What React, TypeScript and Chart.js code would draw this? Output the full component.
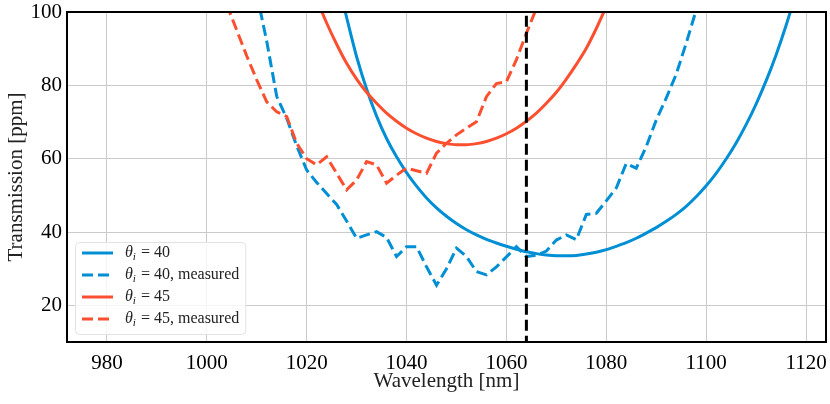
import { useEffect, useRef } from "react";
import { Chart, registerables } from "chart.js";
Chart.register(...registerables);

const BLUE = "#008fd5";
const RED = "#fc4f30";
const GRID = "#cbcbcb";
const FONT = "'Liberation Serif', 'Times New Roman', serif";

const xTicks = [980, 1000, 1020, 1040, 1060, 1080, 1100, 1120];
const yTicks = [20, 40, 60, 80, 100];
const laserWl = 1064;

// theory curve, theta_i = 40
const theory40Wl = [
  1026, 1028, 1030, 1032, 1034, 1036, 1038, 1040, 1042, 1044, 1046, 1048, 1050,
  1052, 1054, 1056, 1058, 1060, 1062, 1064, 1066, 1068, 1070, 1072, 1074, 1076,
  1078, 1080, 1082, 1084, 1086, 1088, 1090, 1092, 1094, 1096, 1098, 1100, 1102,
  1104, 1106, 1108, 1110, 1112, 1114, 1116, 1118,
];
const theory40T = [
  110, 98.5, 87.8, 79, 71.6, 65.5, 60.5, 56.2, 52.5, 49.3, 46.6, 44.3, 42.3,
  40.6, 39.2, 38, 37, 36.1, 35.3, 34.6, 34.1, 33.7, 33.5, 33.5, 33.6, 34,
  34.5, 35.2, 36.1, 37.1, 38.3, 39.7, 41.2, 42.9, 44.8, 47, 49.6, 52.6, 56,
  59.9, 64.3, 69.3, 74.9, 81.2, 88.3, 96.3, 105.3,
];

// measured, theta_i = 40
const meas40Wl = [
  1010, 1012, 1014, 1016, 1018, 1020, 1022, 1024, 1026, 1028, 1030, 1032, 1034,
  1036, 1038, 1040, 1042, 1044, 1046, 1048, 1050, 1052, 1054, 1056, 1058, 1060,
  1062, 1064, 1066, 1068, 1070, 1072, 1074, 1076, 1078, 1080, 1082, 1084, 1086,
  1088, 1090, 1092, 1094, 1096, 1098,
];
const meas40T = [
  105, 92, 77, 71, 63.5, 56.9, 53.5, 50.5, 47.5, 43, 38.3, 39.2, 40.1,
  38.5, 33.3, 36, 36, 30.5, 25.5, 30, 35.6, 33.3, 29.2, 28.3, 30.5, 33.2,
  36, 33.3, 33.7, 34.8, 37.8, 39.2, 37.9, 44.8, 45.1, 48.5, 52, 58.7, 57.4,
  63.3, 70.5, 76.5, 83, 91.5, 100.5,
];

// theory curve, theta_i = 45
const theory45Wl = [
  1022, 1024, 1026, 1028, 1030, 1032, 1034, 1036, 1038, 1040, 1042, 1044, 1046,
  1048, 1050, 1052, 1054, 1056, 1058, 1060, 1062, 1064, 1066, 1068, 1070, 1072,
  1074, 1076, 1078, 1080,
];
const theory45T = [
  103.5, 97, 91.2, 86, 81.7, 78.1, 75.1, 72.4, 70.2, 68.3, 66.8, 65.6, 64.7,
  64.1, 63.8, 63.8, 64.1, 64.7, 65.6, 66.8, 68.3, 70.2, 72.4, 75.1, 78.1, 81.7,
  85.7, 90.1, 95.5, 101.5,
];

// measured, theta_i = 45
const meas45Wl = [
  1004, 1006, 1008, 1010, 1012, 1014, 1016, 1018, 1020, 1022, 1024, 1026, 1028,
  1030, 1032, 1034, 1036, 1038, 1040, 1042, 1044, 1046, 1048, 1050, 1052, 1054,
  1056, 1058, 1060, 1062, 1064, 1066,
];
const meas45T = [
  102, 95, 88, 81.5, 75.5, 72.8, 71.5, 64.2, 60, 58.3, 60.5, 56, 51.5,
  54.2, 59.2, 58.3, 53.3, 55.5, 57.4, 56.7, 56, 61.5, 64.2, 66.5, 68.3, 70.1,
  76.9, 80.5, 81, 87, 94.2, 101,
];

const pts = (xs: number[], ys: number[]) => xs.map((x, i) => ({ x, y: ys[i] }));

const DASH = [11, 5];

// draws the box around the plot area
const framePlugin = {
  id: "frame",
  afterDraw(chart: any) {
    const { ctx, chartArea: a } = chart;
    ctx.save();
    ctx.strokeStyle = "#000";
    ctx.lineWidth = 2;
    ctx.strokeRect(a.left, a.top, a.right - a.left, a.bottom - a.top);
    ctx.restore();
  },
};

// matplotlib-like legend in the lower left corner
const legendPlugin = {
  id: "boxLegend",
  afterDatasetsDraw(chart: any) {
    const { ctx, chartArea: a } = chart;
    const items = chart.data.datasets.filter((d: any) => d.inLegend);
    const fs = 16;
    const rowH = 22;
    const normal = `${fs}px ${FONT}`;
    const italic = `italic ${fs}px ${FONT}`;
    const small = `italic ${fs * 0.7}px ${FONT}`;

    ctx.save();
    const widthOf = (label: string) => {
      if (label.startsWith("θᵢ")) {
        ctx.font = italic;
        let w = ctx.measureText("θ").width;
        ctx.font = small;
        w += ctx.measureText("i").width + 1;
        ctx.font = normal;
        return w + ctx.measureText(label.slice(2)).width;
      }
      ctx.font = normal;
      return ctx.measureText(label).width;
    };
    const textW = Math.max(...items.map((d: any) => widthOf(d.label)));
    const bx = a.left + 8;
    const bw = 50 + textW + 6;
    const bh = rowH * items.length + 4;
    const by = a.bottom - 8 - bh;

    ctx.fillStyle = "rgba(255,255,255,0.8)";
    ctx.strokeStyle = "#e2e2e2";
    ctx.lineWidth = 1;
    ctx.beginPath();
    ctx.roundRect(bx + 0.5, by + 0.5, bw, bh, 4);
    ctx.fill();
    ctx.stroke();

    items.forEach((d: any, i: number) => {
      const cy = by + 11 + i * rowH;
      ctx.strokeStyle = d.borderColor;
      ctx.lineWidth = d.borderWidth;
      ctx.setLineDash(d.borderDash || []);
      ctx.beginPath();
      ctx.moveTo(bx + 7, cy);
      ctx.lineTo(bx + 38, cy);
      ctx.stroke();
      ctx.setLineDash([]);

      ctx.fillStyle = "#222";
      ctx.textBaseline = "middle";
      ctx.textAlign = "left";
      let tx = bx + 50;
      let rest = d.label;
      if (rest.startsWith("θᵢ")) {
        ctx.font = italic;
        ctx.fillText("θ", tx, cy);
        tx += ctx.measureText("θ").width;
        ctx.font = small;
        ctx.fillText("i", tx, cy + 4);
        tx += ctx.measureText("i").width + 1;
        rest = rest.slice(2);
      }
      ctx.font = normal;
      ctx.fillText(rest, tx, cy);
    });
    ctx.restore();
  },
};

export default function App() {
  const ref = useRef<HTMLCanvasElement>(null);

  useEffect(() => {
    const chart = new Chart(ref.current!, {
      type: "line",
      data: {
        datasets: [
          {
            label: "θᵢ = 40",
            data: pts(theory40Wl, theory40T),
            borderColor: BLUE,
            borderWidth: 3,
            cubicInterpolationMode: "monotone",
            order: 4,
            inLegend: true,
          } as any,
          {
            label: "θᵢ = 40, measured",
            data: pts(meas40Wl, meas40T),
            borderColor: BLUE,
            borderWidth: 3,
            borderDash: DASH,
            order: 3,
            inLegend: true,
          },
          {
            label: "θᵢ = 45",
            data: pts(theory45Wl, theory45T),
            borderColor: RED,
            borderWidth: 3,
            cubicInterpolationMode: "monotone",
            order: 2,
            inLegend: true,
          },
          {
            label: "θᵢ = 45, measured",
            data: pts(meas45Wl, meas45T),
            borderColor: RED,
            borderWidth: 3,
            borderDash: DASH,
            order: 1,
            inLegend: true,
          },
          {
            label: "1064 nm",
            data: [
              { x: laserWl, y: 0 },
              { x: laserWl, y: 110 },
            ],
            borderColor: "#000",
            borderWidth: 3,
            borderDash: DASH,
            order: 0,
            inLegend: false,
          },
        ],
      },
      options: {
        animation: false,
        responsive: true,
        maintainAspectRatio: false,
        parsing: false,
        elements: { point: { radius: 0 }, line: { fill: false } },
        layout: { padding: { top: 12, right: 4, left: 0, bottom: 0 } },
        plugins: {
          legend: { display: false },
          tooltip: { enabled: false },
        },
        scales: {
          x: {
            type: "linear",
            min: 972,
            max: 1124,
            afterBuildTicks: (s: any) => {
              s.ticks = xTicks.map((value) => ({ value }));
            },
            afterFit: (s: any) => {
              s.height = 62;
              s.paddingLeft = 0;
              s.paddingRight = 0;
            },
            grid: { color: GRID, lineWidth: 1, drawTicks: false },
            border: { display: false },
            ticks: {
              color: "#000",
              padding: 9,
              maxRotation: 0,
              callback: (v: any) => String(v),
              font: { family: FONT, size: 21 },
            },
            title: {
              display: true,
              text: "Wavelength [nm]",
              color: "#222",
              padding: { top: 0, bottom: 10 },
              font: { family: FONT, size: 21 },
            },
          },
          y: {
            type: "linear",
            min: 10,
            max: 100,
            afterBuildTicks: (s: any) => {
              s.ticks = yTicks.map((value) => ({ value }));
            },
            afterFit: (s: any) => {
              s.width = 67;
              s.paddingTop = 0;
              s.paddingBottom = 0;
            },
            grid: { color: GRID, lineWidth: 1, drawTicks: false },
            border: { display: false },
            ticks: {
              color: "#000",
              padding: 5,
              callback: (v: any) => String(v),
              font: { family: FONT, size: 21 },
            },
            title: {
              display: true,
              text: "Transmission [ppm]",
              color: "#222",
              padding: { top: 4, bottom: 0 },
              font: { family: FONT, size: 21 },
            },
          },
        },
      },
      plugins: [legendPlugin, framePlugin],
    } as any);
    return () => chart.destroy();
  }, []);

  return (
    <div style={{ position: "absolute", left: 0, top: 0, width: 830, height: 404 }}>
      <canvas ref={ref}></canvas>
    </div>
  );
}
